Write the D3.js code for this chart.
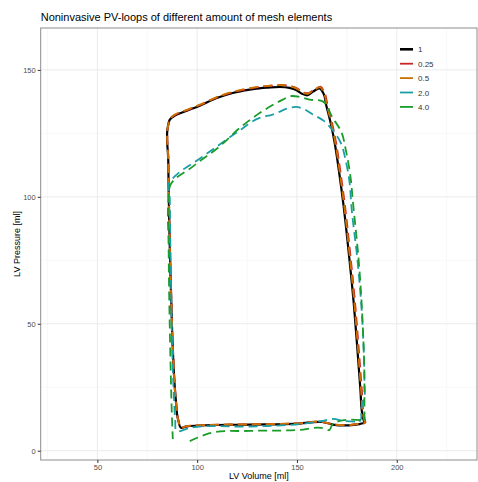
<!DOCTYPE html>
<html>
<head>
<meta charset="utf-8">
<script src="https://cdn.jsdelivr.net/npm/d3@7"></script>
<style>
  body { margin: 0; background: #fff; }
  text { font-family: "Liberation Sans", Arial, sans-serif; }
</style>
</head>
<body>
<script>
// Set up size
var width = 478;
var height = 482;

// Series names and colours (legend order)
var seriesNames = ['1', '0.25', '0.5', '2.0', '4.0'];
var seriesColors = ['#000000', '#c62828', '#cc7000', '#1b9ea6', '#1a9c2a'];

// Tick values
var xTicks = [50, 100, 150, 200];
var xMinor = [25, 75, 125, 175, 225];
var yTicks = [0, 50, 100, 150];
var yMinor = [25, 75, 125];

// PV-loops: [volume ml, pressure]
var loop1 = [
  [183.8,10.9],[182.8,14.1],[181.8,23.9],[180.3,39.7],[178.3,59.3],[175.8,79.0],[173.3,96.8],[171.3,108.7],
  [168.8,121.7],[167.1,128.4],[164.6,136.3],[163.3,140.7],[161.3,142.7],
  [158.3,141.6],[155.3,140.0],[152.8,140.5],[149.8,142.0],[146.3,142.9],[134.8,143.0],[126.3,142.2],[117.8,140.9],
  [109.8,138.9],[101.3,135.9],[93.8,133.6],[88.8,132.0],[86.3,130.4],[85.5,128.4],[85.5,114.6],[85.8,98.9],
  [86.3,79.1],[87.0,59.4],[87.8,39.7],[89.3,20.0],[90.5,12.1],[92.0,9.0],[94.3,9.5],[101.3,9.9],
  [126.3,10.3],[151.3,10.7],[162.8,11.3],[168.0,10.3],[176.0,10.0],[181.3,10.5],[183.8,10.9]
];
var loop025 = [
  [184.4,10.9],[183.5,14.1],[182.5,23.9],[181.0,39.7],[179.0,59.3],[176.5,79.0],[174.0,96.8],[172.0,108.7],
  [169.5,121.7],[167.8,128.4],[165.3,136.3],[163.8,141.0],[161.8,143.4],
  [158.8,142.3],[155.5,140.8],[153.0,141.2],[149.8,142.8],[146.3,143.7],[134.8,143.6],[126.3,142.6],[117.8,141.2],
  [109.8,139.1],[101.3,136.1],[93.8,133.8],[88.8,132.2],[86.3,130.6],[85.6,128.4],[85.6,114.6],[85.9,98.9],
  [86.4,79.1],[87.1,59.4],[87.9,39.7],[89.4,20.0],[90.6,12.1],[92.1,9.0],[94.3,9.6],[101.3,10.0],
  [126.3,10.4],[151.3,10.8],[162.8,11.3],[168.0,10.4],[176.0,10.1],[181.3,10.6],[184.4,10.9]
];
var loop05 = [
  [184.1,10.9],[183.1,14.1],[182.1,23.9],[180.6,39.7],[178.6,59.3],[176.1,79.0],[173.6,96.8],[171.6,108.7],
  [169.1,121.7],[167.4,128.4],[164.9,136.3],[163.5,140.9],[161.5,143.2],
  [158.5,142.1],[155.4,140.6],[152.9,141.0],[149.8,142.6],[146.3,143.6],[134.8,143.7],[126.3,142.8],[117.8,141.4],
  [109.8,139.3],[101.3,136.3],[93.8,134.0],[88.8,132.4],[86.3,130.7],[85.5,128.4],[85.5,114.6],[85.8,98.9],
  [86.3,79.1],[87.0,59.4],[87.8,39.7],[89.3,20.0],[90.5,12.1],[92.0,9.1],[94.3,9.6],[101.3,10.0],
  [126.3,10.4],[151.3,10.8],[162.8,11.4],[168.0,10.4],[176.0,10.1],[181.3,10.6],[184.1,10.9]
];
var loop2 = [
  [181.3,11.4],[182.1,12.5],[182.1,15.4],[183.0,19.0],[183.8,21.0],[183.8,26.7],[182.8,50.4],[180.3,75.2],
  [177.3,96.0],[176.3,106.0],[174.5,114.0],[171.8,121.5],[168.3,125.8],[163.3,130.0],[157.6,132.6],[153.6,134.5],
  [149.6,135.4],[146.3,135.0],[137.8,132.4],[131.3,131.1],[119.6,125.2],[102.9,115.9],[87.9,107.4],[86.3,106.0],
  [86.3,98.9],[86.6,80.0],[87.0,60.0],[87.5,40.0],[88.3,22.0],[89.0,12.1],[89.6,7.8],[96.3,9.0],[126.3,9.5],
  [151.3,10.5],[162.8,11.7],[167.8,12.5],[173.8,11.7],[181.3,11.4]
];
// null marks the break in the dashed 4.0 loop at the bottom left
var loop4 = [
  [183.8,11.9],[183.8,23.9],[183.8,26.7],[182.9,50.4],[180.9,75.2],[177.8,100.0],[177.1,106.1],[174.6,117.9],
  [172.1,125.8],[167.8,131.2],[162.9,137.6],[156.3,138.3],[151.3,139.4],[146.3,139.6],[142.9,138.3],[131.3,133.0],
  [121.3,127.1],[111.3,119.9],[97.9,112.0],[86.3,104.1],[85.6,99.0],[85.7,80.0],[86.0,60.0],[86.5,40.0],
  [87.1,20.0],[87.6,8.0],[87.8,4.6],null,
  [96.3,3.8],[106.3,6.9],[126.3,7.8],[151.3,8.2],[162.3,9.0],[166.3,8.2],[167.8,10.5],[171.3,11.7],[183.8,11.9]
];
var loops = [loop1, loop025, loop05, loop2, loop4];

// Panel position
var panel = { left: 40.7, right: 477, top: 28, bottom: 460 };

var x = d3.scaleLinear().domain([21.6, 240.2]).range([panel.left, panel.right]);
var y = d3.scaleLinear().domain([-3.66, 166.5]).range([panel.bottom, panel.top]);

var svg = d3.select('body').append('svg')
  .attr('width', width)
  .attr('height', height);

// Minor and major grid
var grid = svg.append('g');
grid.selectAll('.xminor').data(xMinor).enter().append('line')
  .attr('x1', function(d) { return x(d); }).attr('x2', function(d) { return x(d); })
  .attr('y1', panel.top).attr('y2', panel.bottom)
  .attr('stroke', '#f4f4f4').attr('stroke-width', 0.6);
grid.selectAll('.yminor').data(yMinor).enter().append('line')
  .attr('y1', function(d) { return y(d); }).attr('y2', function(d) { return y(d); })
  .attr('x1', panel.left).attr('x2', panel.right)
  .attr('stroke', '#f4f4f4').attr('stroke-width', 0.6);
grid.selectAll('.xmajor').data(xTicks).enter().append('line')
  .attr('x1', function(d) { return x(d); }).attr('x2', function(d) { return x(d); })
  .attr('y1', panel.top).attr('y2', panel.bottom)
  .attr('stroke', '#ebebeb').attr('stroke-width', 1);
grid.selectAll('.ymajor').data(yTicks).enter().append('line')
  .attr('y1', function(d) { return y(d); }).attr('y2', function(d) { return y(d); })
  .attr('x1', panel.left).attr('x2', panel.right)
  .attr('stroke', '#ebebeb').attr('stroke-width', 1);

// Panel border
svg.append('rect')
  .attr('x', panel.left).attr('y', panel.top)
  .attr('width', panel.right - panel.left).attr('height', panel.bottom - panel.top)
  .attr('fill', 'none').attr('stroke', '#8c8c8c').attr('stroke-width', 1);

// Axes
var xAxis = svg.append('g')
  .attr('transform', 'translate(0,' + panel.bottom + ')')
  .call(d3.axisBottom(x).tickValues(xTicks).tickSize(3).tickPadding(2));
var yAxis = svg.append('g')
  .attr('transform', 'translate(' + panel.left + ',0)')
  .call(d3.axisLeft(y).tickValues(yTicks).tickSize(3).tickPadding(2));
[xAxis, yAxis].forEach(function(a) {
  a.select('.domain').remove();
  a.selectAll('line').attr('stroke', '#333');
  a.selectAll('text').attr('fill', '#4d4d4d')
    .style('font-size', '7.5px').style('font-family', '"Liberation Sans", Arial, sans-serif');
});

// The loops
var line = d3.line()
  .defined(function(d) { return d !== null; })
  .x(function(d) { return x(d[0]); })
  .y(function(d) { return y(d[1]); })
  .curve(d3.curveCatmullRom.alpha(1));

svg.append('g').selectAll('path')
  .data(loops)
  .enter()
  .append('path')
  .attr('d', line)
  .attr('fill', 'none')
  .attr('stroke', function(d, i) { return seriesColors[i]; })
  .attr('stroke-width', function(d, i) { return i === 0 ? 2.2 : 1.8; })
  .attr('stroke-dasharray', function(d, i) { return i === 0 ? null : '9,5'; })
  .attr('stroke-linejoin', 'round');

// Legend
var legend = svg.append('g').selectAll('g')
  .data(seriesNames)
  .enter()
  .append('g')
  .attr('transform', function(d, i) { return 'translate(400,' + (49.3 + i * 14.4) + ')'; });
legend.append('line')
  .attr('x1', 0).attr('x2', 13)
  .attr('stroke', function(d, i) { return seriesColors[i]; })
  .attr('stroke-width', function(d, i) { return i === 0 ? 2.6 : 1.8; });
legend.append('text')
  .attr('x', 18).attr('y', 3)
  .attr('fill', '#333')
  .style('font-size', '8px')
  .text(function(d) { return d; });

// Title and axis titles
svg.append('text')
  .attr('x', 40.7).attr('y', 21)
  .style('font-size', '11px')
  .attr('fill', '#000')
  .text('Noninvasive PV-loops of different amount of mesh elements');
svg.append('text')
  .attr('x', (panel.left + panel.right) / 2).attr('y', 479)
  .attr('text-anchor', 'middle')
  .style('font-size', '9px')
  .text('LV Volume [ml]');
svg.append('text')
  .attr('transform', 'translate(20,' + (panel.top + panel.bottom) / 2 + ') rotate(-90)')
  .attr('text-anchor', 'middle')
  .style('font-size', '9px')
  .text('LV Pressure [ml]');
</script>
</body>
</html>
